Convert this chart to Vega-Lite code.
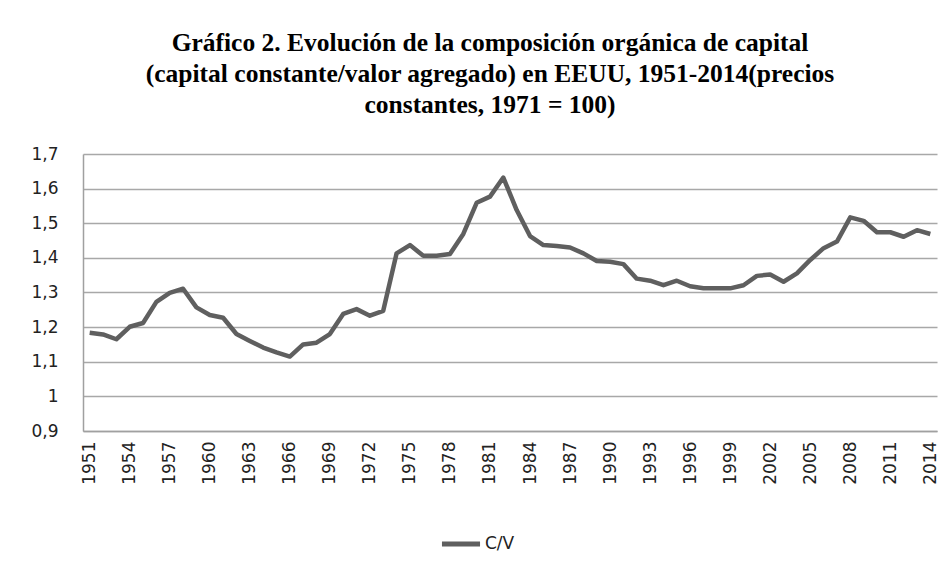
{
  "$schema": "https://vega.github.io/schema/vega-lite/v6.json",
  "width": 854,
  "height": 277,
  "autosize": {"type": "none"},
  "padding": {"left": 83, "top": 154, "right": 15, "bottom": 146},
  "background": "white",
  "title": {
    "text": ["Gráfico 2. Evolución de la composición orgánica de capital", "(capital constante/valor agregado) en EEUU, 1951-2014(precios", "constantes, 1971 = 100)"],
    "font": "Liberation Serif",
    "fontSize": 25.5,
    "fontWeight": "bold",
    "color": "#000000",
    "anchor": "middle",
    "dx": -20,
    "offset": 27,
    "lineHeight": 31
  },
  "data": {
    "values": [
      {"year": 1951, "value": 1.184, "serie": "C/V"},
      {"year": 1952, "value": 1.179, "serie": "C/V"},
      {"year": 1953, "value": 1.165, "serie": "C/V"},
      {"year": 1954, "value": 1.201, "serie": "C/V"},
      {"year": 1955, "value": 1.212, "serie": "C/V"},
      {"year": 1956, "value": 1.273, "serie": "C/V"},
      {"year": 1957, "value": 1.299, "serie": "C/V"},
      {"year": 1958, "value": 1.311, "serie": "C/V"},
      {"year": 1959, "value": 1.257, "serie": "C/V"},
      {"year": 1960, "value": 1.235, "serie": "C/V"},
      {"year": 1961, "value": 1.227, "serie": "C/V"},
      {"year": 1962, "value": 1.180, "serie": "C/V"},
      {"year": 1963, "value": 1.160, "serie": "C/V"},
      {"year": 1964, "value": 1.141, "serie": "C/V"},
      {"year": 1965, "value": 1.127, "serie": "C/V"},
      {"year": 1966, "value": 1.115, "serie": "C/V"},
      {"year": 1967, "value": 1.150, "serie": "C/V"},
      {"year": 1968, "value": 1.155, "serie": "C/V"},
      {"year": 1969, "value": 1.180, "serie": "C/V"},
      {"year": 1970, "value": 1.238, "serie": "C/V"},
      {"year": 1971, "value": 1.252, "serie": "C/V"},
      {"year": 1972, "value": 1.233, "serie": "C/V"},
      {"year": 1973, "value": 1.247, "serie": "C/V"},
      {"year": 1974, "value": 1.413, "serie": "C/V"},
      {"year": 1975, "value": 1.437, "serie": "C/V"},
      {"year": 1976, "value": 1.406, "serie": "C/V"},
      {"year": 1977, "value": 1.406, "serie": "C/V"},
      {"year": 1978, "value": 1.411, "serie": "C/V"},
      {"year": 1979, "value": 1.469, "serie": "C/V"},
      {"year": 1980, "value": 1.559, "serie": "C/V"},
      {"year": 1981, "value": 1.577, "serie": "C/V"},
      {"year": 1982, "value": 1.632, "serie": "C/V"},
      {"year": 1983, "value": 1.538, "serie": "C/V"},
      {"year": 1984, "value": 1.463, "serie": "C/V"},
      {"year": 1985, "value": 1.437, "serie": "C/V"},
      {"year": 1986, "value": 1.434, "serie": "C/V"},
      {"year": 1987, "value": 1.430, "serie": "C/V"},
      {"year": 1988, "value": 1.413, "serie": "C/V"},
      {"year": 1989, "value": 1.391, "serie": "C/V"},
      {"year": 1990, "value": 1.389, "serie": "C/V"},
      {"year": 1991, "value": 1.382, "serie": "C/V"},
      {"year": 1992, "value": 1.340, "serie": "C/V"},
      {"year": 1993, "value": 1.334, "serie": "C/V"},
      {"year": 1994, "value": 1.321, "serie": "C/V"},
      {"year": 1995, "value": 1.334, "serie": "C/V"},
      {"year": 1996, "value": 1.318, "serie": "C/V"},
      {"year": 1997, "value": 1.312, "serie": "C/V"},
      {"year": 1998, "value": 1.312, "serie": "C/V"},
      {"year": 1999, "value": 1.312, "serie": "C/V"},
      {"year": 2000, "value": 1.321, "serie": "C/V"},
      {"year": 2001, "value": 1.348, "serie": "C/V"},
      {"year": 2002, "value": 1.352, "serie": "C/V"},
      {"year": 2003, "value": 1.331, "serie": "C/V"},
      {"year": 2004, "value": 1.355, "serie": "C/V"},
      {"year": 2005, "value": 1.394, "serie": "C/V"},
      {"year": 2006, "value": 1.428, "serie": "C/V"},
      {"year": 2007, "value": 1.447, "serie": "C/V"},
      {"year": 2008, "value": 1.517, "serie": "C/V"},
      {"year": 2009, "value": 1.507, "serie": "C/V"},
      {"year": 2010, "value": 1.474, "serie": "C/V"},
      {"year": 2011, "value": 1.474, "serie": "C/V"},
      {"year": 2012, "value": 1.461, "serie": "C/V"},
      {"year": 2013, "value": 1.480, "serie": "C/V"},
      {"year": 2014, "value": 1.469, "serie": "C/V"}
    ]
  },
  "mark": {"type": "line", "strokeWidth": 4.5, "strokeJoin": "round", "strokeCap": "butt"},
  "encoding": {
    "x": {
      "field": "year",
      "type": "ordinal",
      "scale": {"type": "point", "padding": 0.5},
      "axis": {
        "title": null,
        "values": [1951,1954,1957,1960,1963,1966,1969,1972,1975,1978,1981,1984,1987,1990,1993,1996,1999,2002,2005,2008,2011,2014],
        "labelAngle": -90,
        "labelAlign": "right",
        "labelBaseline": "middle",
        "labelFont": "DejaVu Sans",
        "labelFontSize": 17,
        "labelColor": "#222222",
        "labelPadding": 10,
        "ticks": false,
        "domain": true,
        "domainColor": "#a0a0a0",
        "domainWidth": 1.5,
        "grid": false
      }
    },
    "y": {
      "field": "value",
      "type": "quantitative",
      "scale": {"domain": [0.9, 1.7], "nice": false, "zero": false},
      "axis": {
        "title": null,
        "values": [0.9, 1.0, 1.1, 1.2, 1.3, 1.4, 1.5, 1.6, 1.7],
        "labelExpr": "replace(format(datum.value, '.1~f'), '.', ',')",
        "labelFont": "DejaVu Sans",
        "labelFontSize": 17,
        "labelColor": "#222222",
        "labelPadding": 25,
        "ticks": false,
        "domain": true,
        "domainColor": "#a0a0a0",
        "domainWidth": 1.5,
        "grid": true,
        "gridColor": "#a8a8a8",
        "gridWidth": 1.5
      }
    },
    "color": {
      "field": "serie",
      "type": "nominal",
      "scale": {"range": ["#5f5f5f"]},
      "legend": {
        "title": null,
        "orient": "none",
        "legendX": 356,
        "legendY": 368,
        "symbolType": "stroke",
        "symbolSize": 1450,
        "symbolStrokeWidth": 5,
        "labelFont": "DejaVu Sans",
        "labelFontSize": 17,
        "labelColor": "#222222",
        "labelOffset": 2
      }
    }
  },
  "config": {
    "view": {"stroke": null}
  }
}
